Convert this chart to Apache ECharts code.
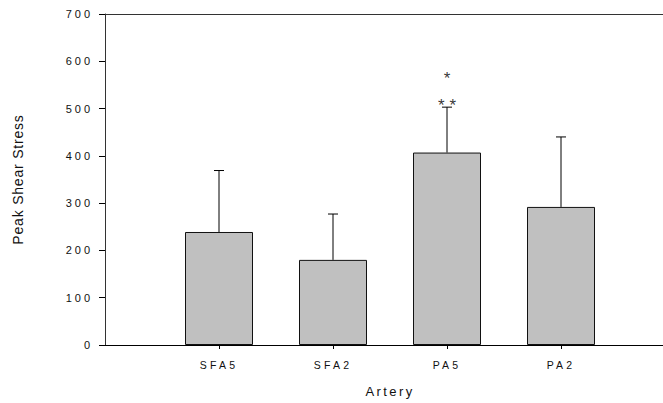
<!DOCTYPE html>
<html>
<head>
<meta charset="utf-8">
<script src="https://cdn.jsdelivr.net/npm/echarts@6/dist/echarts.min.js"></script>
<style>
  html, body { margin: 0; padding: 0; background: #fff; overflow: hidden; }
  #chart { width: 663px; height: 403px; overflow: hidden; }
  /* wide-set lettering, picked per text size */
  #chart text[style*="11px"] { letter-spacing: 3px; }
  #chart text[style*="10.5px"] { letter-spacing: 3.2px; }
  #chart text[style*="13px"] { letter-spacing: 2.4px; }
  #chart text[style*="14px"] { letter-spacing: 0.8px; }
  #chart text[style*="17px"] { letter-spacing: 5px; }
</style>
</head>
<body>
<div id="chart"></div>
<script>
// Peak shear stress by artery segment (mean with upper SD bar)
const categories = ['SFA5', 'SFA2', 'PA5', 'PA2'];
const meanValues = [239, 180, 407, 292];
const upperError = [369, 277, 503, 440];
const significance = [[], [], ['**', '*'], []];
const yTicks = [0, 100, 200, 300, 400, 500, 600, 700];

// empty slots before and after the groups on the axis
const axisCats = [''].concat(categories, ['']);
const barData = [null].concat(meanValues, [null]);
const errData = categories.map((c, i) => [i + 1, meanValues[i], upperError[i]]);

// significance marks stacked above each error-bar cap
const sigData = [];
significance.forEach((marks, i) => {
  marks.forEach((m, k) => {
    sigData.push({
      value: [i + 1, upperError[i]],
      label: { formatter: m, offset: [2.5, -2 - k * 27] }
    });
  });
});

const TEXT = '#111';
const LINE = '#000';
const FONT = 'Liberation Sans, Arial, sans-serif';

const chart = echarts.init(document.getElementById('chart'), null, { renderer: 'svg' });

chart.setOption({
  animation: false,
  grid: { left: 105, top: 14, width: 570, height: 331, outerBoundsMode: 'none', containLabel: false },
  xAxis: [
    {
      type: 'category', data: axisCats, boundaryGap: false,
      name: 'Artery', nameLocation: 'middle', nameGap: 40,
      nameTextStyle: { color: TEXT, fontSize: 13, fontFamily: FONT },
      axisLine: { lineStyle: { color: LINE } },
      axisTick: { length: 4, interval: (idx, val) => val !== '', lineStyle: { color: LINE } },
      axisLabel: { interval: 0, color: TEXT, fontSize: 10.5, fontFamily: FONT, margin: 14 }
    },
    {
      // frame line along the top
      type: 'category', data: axisCats, boundaryGap: false, position: 'top',
      axisLine: { show: true, lineStyle: { color: '#333' } },
      axisTick: { show: false }, axisLabel: { show: false }
    }
  ],
  yAxis: {
    type: 'value',
    min: yTicks[0], max: yTicks[yTicks.length - 1], interval: 100,
    name: 'Peak Shear Stress', nameLocation: 'middle', nameGap: 80, nameRotate: 90,
    nameTextStyle: { color: TEXT, fontSize: 14, fontFamily: FONT },
    axisLine: { show: true, lineStyle: { color: '#333' } },
    axisTick: { show: true, length: 6, lineStyle: { color: LINE } },
    axisLabel: { color: TEXT, fontSize: 11, fontFamily: FONT, margin: 12 },
    splitLine: { show: false }
  },
  series: [
    {
      type: 'bar', data: barData, barWidth: 68,
      itemStyle: { color: '#c0c0c0', borderColor: '#111', borderWidth: 1 }
    },
    {
      type: 'custom', data: errData, encode: { x: 0, y: [1, 2] }, z: 3,
      renderItem: function (params, api) {
        const x = api.value(0);
        const top = api.coord([x, api.value(2)]);
        const base = api.coord([x, api.value(1)]);
        return {
          type: 'group',
          children: [
            { type: 'line', shape: { x1: top[0], y1: base[1], x2: top[0], y2: top[1] },
              style: { stroke: LINE, lineWidth: 1 } },
            { type: 'line', shape: { x1: top[0] - 5, y1: top[1], x2: top[0] + 5, y2: top[1] },
              style: { stroke: LINE, lineWidth: 1 } }
          ]
        };
      }
    },
    {
      type: 'scatter', data: sigData, symbolSize: 1, z: 4,
      itemStyle: { color: 'rgba(0,0,0,0)' },
      label: {
        show: true, position: 'inside', align: 'center', verticalAlign: 'middle',
        color: '#000', fontSize: 17, fontFamily: FONT
      }
    }
  ]
});
</script>
</body>
</html>
